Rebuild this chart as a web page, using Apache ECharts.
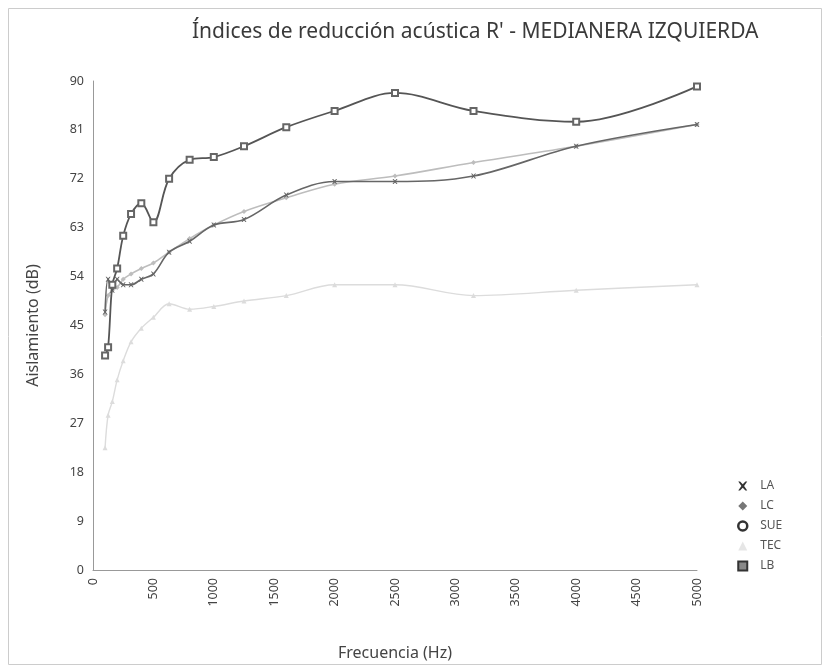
<!DOCTYPE html>
<html>
<head>
<meta charset="utf-8">
<script src="https://cdn.jsdelivr.net/npm/echarts@6/dist/echarts.min.js"></script>
<style>
html,body{margin:0;padding:0;background:#fff;}
#c{width:826px;height:667px;}
</style>
</head>
<body>
<div id="c"></div>
<script>
var frequencies = [100,125,160,200,250,315,400,500,630,800,1000,1250,1600,2000,2500,3150,4000,5000];
var LA  = [47.5,53.5,51.5,53.5,52.5,52.5,53.5,54.5,58.5,60.5,63.5,64.5,69,71.5,71.5,72.5,78,82];
var LC  = [47,50.5,51.5,52,53.5,54.5,55.5,56.5,58.5,61,63.5,66,68.5,71,72.5,75,78,82];
var SUE = [];
var TEC = [22.5,28.5,31,35,38.5,42,44.5,46.5,49,48,48.5,49.5,50.5,52.5,52.5,50.5,51.5,52.5];
var LB  = [39.5,41,52.5,55.5,61.5,65.5,67.5,64,72,75.5,76,78,81.5,84.5,87.8,84.5,82.5,89];
var yTicks = {min:0, max:90, interval:9};
var xTicks = {min:0, max:5000, interval:500};

function pairs(vals){ return vals.map(function(v,i){ return [frequencies[i], v]; }); }
var xPath = 'path://M0,0 L2,0 L5,3 L8,0 L10,0 L6.5,5 L10,10 L8,10 L5,7 L2,10 L0,10 L3.5,5 Z';

var chart = echarts.init(document.getElementById('c'));
chart.setOption({
  backgroundColor:'#fff',
  animation:false,
  textStyle:{fontFamily:'Noto Sans'},
  title:{text:"Índices de reducción acústica R' - MEDIANERA IZQUIERDA", left:187, top:17,
    textStyle:{fontSize:21, fontWeight:'normal', color:'#3a3a3a', fontFamily:'Noto Sans'}},
  graphic:[{type:'rect', shape:{x:8.5,y:8.5,width:813,height:656}, style:{fill:null, stroke:'#ccc', lineWidth:1}, silent:true}],
  grid:{left:93, right:129, top:81, bottom:97},
  legend:{orient:'vertical', left:732, top:475, itemGap:8, itemWidth:9, itemHeight:9,
    textStyle:{fontSize:12, color:'#555', padding:[0,0,0,8]},
    data:[
      {name:'LA', icon:xPath, itemStyle:{color:'#333'}},
      {name:'LC', icon:'diamond', itemStyle:{color:'#777'}},
      {name:'SUE', icon:'circle', itemStyle:{color:'#fff', borderColor:'#333', borderWidth:2.5}},
      {name:'TEC', icon:'triangle', itemStyle:{color:'#e6e6e6'}},
      {name:'LB', icon:'rect', itemStyle:{color:'#888', borderColor:'#333', borderWidth:2}}
    ]},
  xAxis:{type:'value', min:xTicks.min, max:xTicks.max, interval:xTicks.interval,
    name:'Frecuencia (Hz)', nameLocation:'middle', nameGap:75,
    nameTextStyle:{fontSize:16, color:'#444'},
    axisLine:{lineStyle:{color:'#999'}}, axisTick:{show:false}, splitLine:{show:false},
    axisLabel:{rotate:90, fontSize:12.5, color:'#444', margin:8, formatter:function(v){return String(v);}}},
  yAxis:{type:'value', min:yTicks.min, max:yTicks.max, interval:yTicks.interval,
    name:'Aislamiento (dB)', nameLocation:'middle', nameGap:52,
    nameTextStyle:{fontSize:16, color:'#444'},
    axisLine:{show:true, lineStyle:{color:'#999'}}, axisTick:{show:false}, splitLine:{show:false},
    axisLabel:{fontSize:12.5, color:'#444', margin:9}},
  series:[
    {name:'LA', type:'line', data:pairs(LA), smooth:0.35, symbol:xPath, symbolSize:5,
      lineStyle:{color:'#666', width:1.6}, itemStyle:{color:'#666'}, z:3},
    {name:'LC', type:'line', data:pairs(LC), smooth:0.35, symbol:'diamond', symbolSize:5,
      lineStyle:{color:'#bdbdbd', width:1.6}, itemStyle:{color:'#bdbdbd'}, z:2},
    {name:'SUE', type:'line', data:pairs(SUE), smooth:0.35, symbol:'emptyCircle', symbolSize:5,
      lineStyle:{color:'#444', width:1.5}, itemStyle:{color:'#444'}},
    {name:'TEC', type:'line', data:pairs(TEC), smooth:0.35, symbol:'triangle', symbolSize:5,
      lineStyle:{color:'#dcdcdc', width:1.4}, itemStyle:{color:'#dcdcdc'}, z:1},
    {name:'LB', type:'line', data:pairs(LB), smooth:0.35, symbol:'emptyRect', symbolSize:6,
      lineStyle:{color:'#555', width:1.8}, itemStyle:{color:'#666', borderColor:'#666', borderWidth:1}, z:4}
  ]
});
</script>
</body>
</html>
